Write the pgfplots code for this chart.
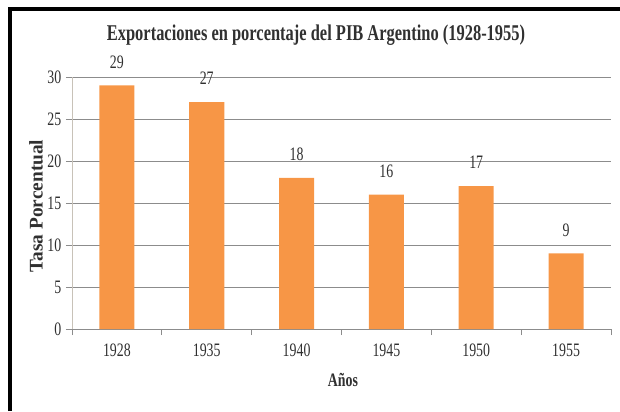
\documentclass[border=0pt]{standalone}
\usepackage{fontspec}
\setmainfont[FakeStretch=0.73]{Liberation Serif}
\newfontfamily\ylabfont{Liberation Serif}
\usepackage{pgfplots}
\pgfplotsset{compat=1.18}
\definecolor{barorange}{HTML}{F79646}
\definecolor{gridgray}{HTML}{8C8C8C}
\definecolor{yaxisgray}{HTML}{C8C2B8}
\definecolor{txt}{HTML}{303030}
\begin{document}
\begin{tikzpicture}[x=0.75pt,y=0.75pt]
\useasboundingbox (0,0) rectangle (620,411);
\draw[line width=3pt] (10,0) -- (10,401.5) -- (620,401.5);
\begin{axis}[
  at={(54pt,61.5pt)}, anchor=south west,
  scale only axis, width=404.25pt, height=189pt,
  xmin=-0.5, xmax=5.5, ymin=0, ymax=30,
  ybar, bar width=26.25pt, bar shift=0pt,
  axis x line*=bottom, axis y line*=left,
  axis line style={-},
  x axis line style={draw=gridgray, line width=0.75pt},
  y axis line style={draw=yaxisgray, line width=0.75pt},
  ytick={0,5,...,30},
  ymajorgrids, grid style={draw=gridgray, line width=0.75pt},
  tick align=outside,
  major tick length=4.5pt,
  tick style={draw=gridgray, line width=0.6pt},
  xtick={-0.5,0.5,...,5.5}, xticklabels={},
  extra x ticks={0,1,2,3,4,5},
  extra x tick labels={1928,1935,1940,1945,1950,1955},
  extra x tick style={major tick length=0pt, grid=none},
  /pgf/number format/assume math mode=true,
  tick label style={font=\fontsize{14.25}{14.25}\selectfont, text=txt},
  xticklabel style={yshift=-7.5pt},
  nodes near coords,
  every node near coord/.append style={font=\fontsize{14.25}{14.25}\selectfont, text=txt, anchor=base, yshift=13pt},
  clip=false,
]
\addplot[fill=barorange, draw=none] coordinates {(0,29) (1,27) (2,18) (3,16) (4,17) (5,9)};
\end{axis}
\node[anchor=base, text=txt, font=\fontsize{16.9}{16.9}\selectfont\bfseries] at (316,370) {Exportaciones en porcentaje del PIB Argentino (1928-1955)};
\node[anchor=base, text=txt, font=\fontsize{14.25}{14.25}\selectfont\bfseries] at (343,25) {Años};
\node[rotate=90, text=txt, font=\ylabfont\fontsize{14.5}{14.5}\selectfont\bfseries] at (36,205) {Tasa Porcentual};
\end{tikzpicture}
\end{document}
